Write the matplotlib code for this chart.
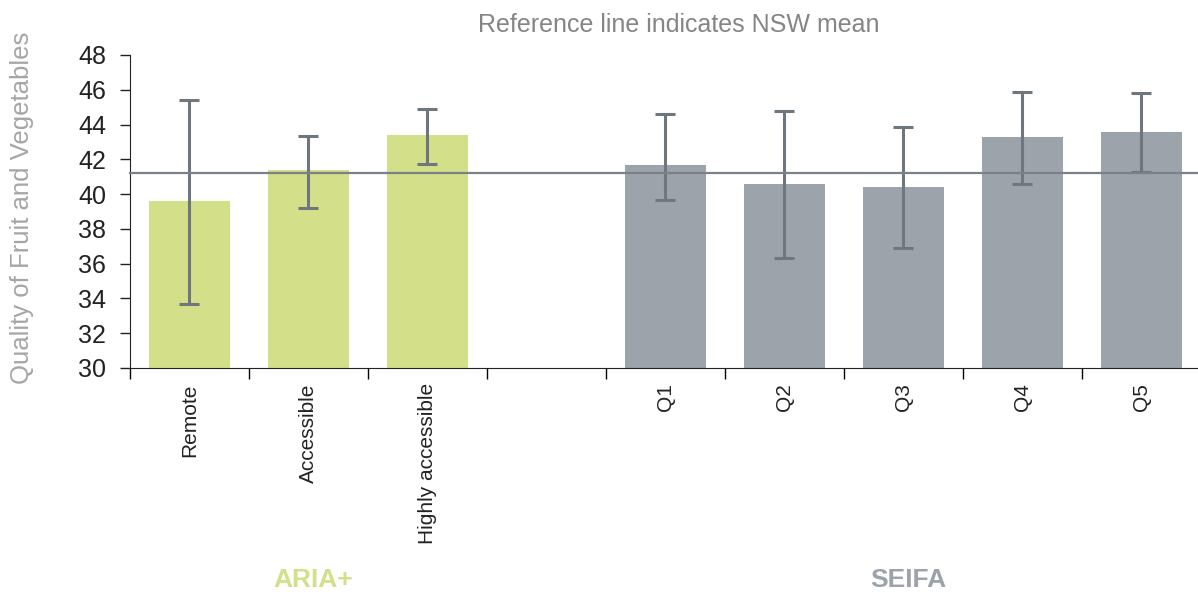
import matplotlib.pyplot as plt

plt.rcParams['font.family'] = ['Liberation Sans', 'DejaVu Sans']

labels = ["Remote", "Accessible", "Highly accessible", "Q1", "Q2", "Q3", "Q4", "Q5"]
positions = [0, 1, 2, 4, 5, 6, 7, 8]
values = [39.6, 41.37, 43.38, 41.67, 40.58, 40.43, 43.30, 43.59]
err_low = [33.7, 39.22, 41.73, 39.68, 36.33, 36.88, 40.58, 41.29]
err_high = [45.41, 43.36, 44.91, 44.62, 44.76, 43.84, 45.85, 45.83]
groups = ["ARIA+", "ARIA+", "ARIA+", "SEIFA", "SEIFA", "SEIFA", "SEIFA", "SEIFA"]
nsw_mean = 41.21

green = "#d4df8a"
grey = "#9ca3aa"
errc = "#6f777e"
colors = [green if g == "ARIA+" else grey for g in groups]

fig = plt.figure(figsize=(11.98, 5.97), dpi=100)
ax = fig.add_axes([0.1085, 0.3836, 0.894, 0.5243])

ax.bar(positions, values, width=0.68, color=colors, zorder=2)
lo = [v - l for v, l in zip(values, err_low)]
hi = [h - v for v, h in zip(values, err_high)]
ax.errorbar(positions, values, yerr=[lo, hi], fmt="none", ecolor=errc,
            elinewidth=2.2, capsize=7, capthick=2.2, zorder=3)
ax.axhline(nsw_mean, color="#7a8188", lw=1.6, zorder=4, clip_on=False)

ax.set_xlim(-0.5, 8.5)
ax.set_ylim(30, 48)
ax.set_yticks(range(30, 49, 2))
ax.tick_params(axis="y", labelsize=18, length=7, width=1, pad=10, colors="#222222")
ax.set_xticks(positions)
ax.set_xticklabels(labels, rotation=90, fontsize=15, color="#222222")
ax.tick_params(axis="x", which="major", length=0, pad=11)
ax.set_xticks([i - 0.5 for i in range(9)], minor=True)
ax.tick_params(axis="x", which="minor", length=8, width=1)

for s in ["top", "right"]:
    ax.spines[s].set_visible(False)
ax.spines["left"].set_color("#222222")
ax.spines["bottom"].set_color("#222222")

fig.text(22 / 1198, 1 - 208 / 597, "Quality of Fruit and Vegetables", rotation=90,
         ha="center", va="center", fontsize=18.5, color="#a5a5a5")
fig.text(679 / 1198, 1 - 25 / 597, "Reference line indicates NSW mean", ha="center",
         va="center", fontsize=18, color="#858585")
fig.text(313 / 1198, 1 - 580 / 597, "ARIA+", ha="center", va="center",
         fontsize=19, fontweight="bold", color=green)
fig.text(908 / 1198, 1 - 580 / 597, "SEIFA", ha="center", va="center",
         fontsize=19, fontweight="bold", color=grey)

fig.savefig("out.png", dpi=100)
